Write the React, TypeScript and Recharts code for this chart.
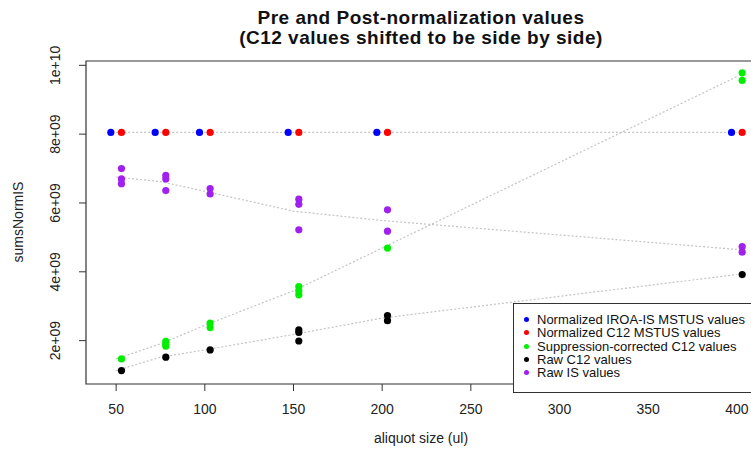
import React from "react";
import { ScatterChart, Scatter, XAxis, YAxis, Legend, ReferenceArea } from "recharts";

// aliquot sizes (ul); IROA-IS points drawn 3 ul left, C12 points 3 ul right
const sizes = [50, 75, 100, 150, 200, 400];
const normIroaIS = [8.05e9, 8.05e9, 8.05e9, 8.05e9, 8.05e9, 8.05e9];
const normC12 = [8.05e9, 8.05e9, 8.05e9, 8.05e9, 8.05e9, 8.05e9];
const suppCorrC12 = [
  [1.47e9],
  [1.98e9, 1.9e9, 1.84e9],
  [2.51e9, 2.38e9],
  [3.57e9, 3.45e9, 3.33e9],
  [4.69e9],
  [9.78e9, 9.56e9],
];
const rawC12 = [
  [1.13e9],
  [1.52e9],
  [1.73e9],
  [2.31e9, 2.24e9, 1.99e9],
  [2.73e9, 2.58e9],
  [3.92e9],
];
const rawIS = [
  [7.0e9, 6.7e9, 6.56e9],
  [6.8e9, 6.7e9, 6.36e9],
  [6.42e9, 6.26e9],
  [6.11e9, 5.96e9, 5.22e9],
  [5.8e9, 5.18e9],
  [4.73e9, 4.57e9],
];

const xTicks = [50, 100, 150, 200, 250, 300, 350, 400];
const yTicks = [2e9, 4e9, 6e9, 8e9, 1e10];
const yTickLabels = ["2e+09", "4e+09", "6e+09", "8e+09", "1e+10"];

const legendItems = [
  { name: "Normalized IROA-IS MSTUS values", color: "#0000ff" },
  { name: "Normalized C12 MSTUS values", color: "#ff0000" },
  { name: "Suppression-corrected C12 values", color: "#00ee00" },
  { name: "Raw C12 values", color: "#000000" },
  { name: "Raw IS values", color: "#a020f0" },
];

const FONT = '"Liberation Sans", Arial, sans-serif';
const SHIFT = 3;

const mean = (a: number[]) => a.reduce((s, v) => s + v, 0) / a.length;

const points = (vals: number[][], dx: number) =>
  sizes.flatMap((s, i) => vals[i].map((v) => ({ x: s + dx, y: v })));

const trend = (vals: number[][]) => sizes.map((s, i) => ({ x: s, y: mean(vals[i]) }));

const dot = (color: string) => (props: any) =>
  <circle cx={props.cx} cy={props.cy} r={3.6} fill={color} />;

const noDot = () => <g />;

const lineStyle = { stroke: "#c4c4c4", strokeWidth: 1.2, strokeDasharray: "2 2" };

const XTick = ({ x, payload }: any) => (
  <text x={x} y={409} textAnchor="middle" dominantBaseline="central"
    fontFamily={FONT} fontSize={14} fill="#222">
    {payload.value}
  </text>
);

const YTick = ({ y, payload }: any) => {
  const i = yTicks.indexOf(payload.value);
  return (
    <text x={55} y={y} transform={`rotate(-90 55 ${y})`} textAnchor="middle"
      dominantBaseline="central" fontFamily={FONT} fontSize={14} fill="#222">
      {yTickLabels[i]}
    </text>
  );
};

const LegendBox = () => (
  <div style={{
    border: "1px solid #333", background: "#fff", height: 79, width: 270,
    boxSizing: "content-box", paddingTop: 9, fontFamily: FONT, fontSize: 13,
    lineHeight: "13px", color: "#111",
  }}>
    {legendItems.map((it) => (
      <div key={it.name} style={{ display: "flex", alignItems: "center", height: 13.25 }}>
        <span style={{
          display: "inline-block", width: 5, height: 5, borderRadius: "50%",
          background: it.color, marginLeft: 10,
        }} />
        <span style={{ marginLeft: 8, whiteSpace: "nowrap", lineHeight: "13px" }}>{it.name}</span>
      </div>
    ))}
  </div>
);

export default function App() {
  const normTrend = sizes.map((s, i) => ({ x: s, y: mean([normIroaIS[i], normC12[i]]) }));
  return (
    <div style={{ position: "absolute", left: 0, top: 0, width: 751, height: 450, overflow: "hidden", background: "#fff" }}>
      <div style={{
        position: "absolute", left: 0, top: 8, width: 842, textAlign: "center",
        fontFamily: FONT, fontWeight: "bold", fontSize: 19, lineHeight: "20px",
        letterSpacing: 0.5, color: "#111", zIndex: 2,
      }}>
        <div>Pre and Post-normalization values</div>
        <div>(C12 values shifted to be side by side)</div>
      </div>
      <ScatterChart width={800} height={450} margin={{ top: 61, right: 33, bottom: 0, left: 0 }}>
        <XAxis type="number" dataKey="x" domain={[33, 417]} ticks={xTicks} height={66}
          axisLine={false} tickLine={{ stroke: "#333" }} tickSize={7} tick={<XTick />}
          label={{
            content: () => (
              <text x={421} y={438} textAnchor="middle" dominantBaseline="central"
                fontFamily={FONT} fontSize={14} fill="#222">aliquot size (ul)</text>
            ),
          }} />
        <YAxis type="number" dataKey="y" domain={[0.74e9, 1.0125e10]} ticks={yTicks} width={86}
          axisLine={false} tickLine={{ stroke: "#333" }} tickSize={7} tick={<YTick />}
          label={{
            content: () => (
              <text x={18} y={222} transform="rotate(-90 18 222)" textAnchor="middle"
                dominantBaseline="central" fontFamily={FONT} fontSize={14} fill="#222">sumsNormIS</text>
            ),
          }} />
        <ReferenceArea x1={33} x2={417} y1={0.74e9} y2={1.0125e10} fill="none"
          stroke="#333" strokeWidth={1.2} />
        <Scatter data={normTrend} line={lineStyle} lineType="joint" shape={noDot} isAnimationActive={false} legendType="none" />
        <Scatter data={trend(suppCorrC12)} line={lineStyle} lineType="joint" shape={noDot} isAnimationActive={false} legendType="none" />
        <Scatter data={trend(rawC12)} line={lineStyle} lineType="joint" shape={noDot} isAnimationActive={false} legendType="none" />
        <Scatter data={trend(rawIS)} line={lineStyle} lineType="joint" shape={noDot} isAnimationActive={false} legendType="none" />
        <Scatter data={sizes.map((s, i) => ({ x: s - SHIFT, y: normIroaIS[i] }))} shape={dot("#0000ff")} isAnimationActive={false} />
        <Scatter data={sizes.map((s, i) => ({ x: s + SHIFT, y: normC12[i] }))} shape={dot("#ff0000")} isAnimationActive={false} />
        <Scatter data={points(suppCorrC12, SHIFT)} shape={dot("#00ee00")} isAnimationActive={false} />
        <Scatter data={points(rawC12, SHIFT)} shape={dot("#000000")} isAnimationActive={false} />
        <Scatter data={points(rawIS, SHIFT)} shape={dot("#a020f0")} isAnimationActive={false} />
        <Legend layout="vertical" align="center" verticalAlign="middle" content={<LegendBox />}
          wrapperStyle={{ position: "absolute", left: 513, top: 303, width: 272, height: 90 }} />
      </ScatterChart>
    </div>
  );
}
